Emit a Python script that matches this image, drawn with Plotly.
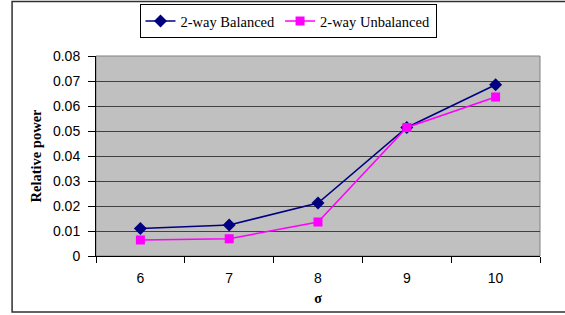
import plotly.graph_objects as go

sigma = ["6", "7", "8", "9", "10"]
balanced = [0.0110, 0.0124, 0.0212, 0.0514, 0.0685]
unbalanced = [0.0064, 0.0069, 0.0136, 0.0514, 0.0636]
y_ticks = [0, 0.01, 0.02, 0.03, 0.04, 0.05, 0.06, 0.07, 0.08]
y_tick_text = ["0", "0.01", "0.02", "0.03", "0.04", "0.05", "0.06", "0.07", "0.08"]

fig = go.Figure()
fig.add_trace(go.Scatter(
    x=sigma, y=balanced, name="2-way Balanced", mode="lines+markers",
    line=dict(color="#000080", width=1.5),
    marker=dict(symbol="diamond", size=10, color="#000080"),
))
fig.add_trace(go.Scatter(
    x=sigma, y=unbalanced, name="2-way Unbalanced", mode="lines+markers",
    line=dict(color="#FF00FF", width=1.5),
    marker=dict(symbol="square", size=9, color="#FF00FF"),
))

fig.update_layout(
    width=565, height=315,
    margin=dict(l=96, r=25, t=56, b=59, autoexpand=False),
    paper_bgcolor="white",
    plot_bgcolor="#C0C0C0",
    showlegend=True,
    legend=dict(
        orientation="h", xref="container", yref="container",
        x=288 / 565, xanchor="center", y=1 - 4 / 315, yanchor="top",
        bordercolor="black", borderwidth=1, bgcolor="white",
        font=dict(family="Liberation Serif", size=14.5, color="black"),
        tracegroupgap=0, itemwidth=30,
    ),
    xaxis=dict(
        type="category", tickson="boundaries", ticks="outside", ticklen=6,
        tickcolor="black", showline=True, linecolor="black", linewidth=1,
        showgrid=False, zeroline=False, automargin=False, ticklabelstandoff=9,
        tickfont=dict(family="Liberation Sans", size=14, color="black"),
        title=dict(text="<b>σ</b>", standoff=8,
                   font=dict(family="Liberation Serif", size=14, color="black")),
        range=[-0.5, 4.5],
    ),
    yaxis=dict(
        range=[0, 0.08], tickvals=y_ticks, ticktext=y_tick_text,
        ticks="outside", ticklen=7, tickcolor="black", automargin=False,
        ticklabelstandoff=5,
        showline=True, linecolor="black", linewidth=1,
        showgrid=True, gridcolor="#404040", gridwidth=1, zeroline=False,
        tickfont=dict(family="Liberation Sans", size=14, color="black"),
        title=dict(text="<b>Relative power</b>", standoff=7,
                   font=dict(family="Liberation Serif", size=14.5, color="black")),
    ),
    shapes=[
        dict(type="rect", xref="paper", yref="paper", x0=0, x1=1, y0=0, y1=1,
             line=dict(color="#808080", width=1), layer="below"),
        dict(type="rect", xref="paper", yref="paper", x0=-0.189, x1=1.08,
             y0=-0.28, y1=1.2725, line=dict(color="#303030", width=1.5)),
    ],
)

fig.write_html("out.html", config={"displayModeBar": False},
               post_script="document.body.style.margin='0';document.body.style.overflow='hidden';")
